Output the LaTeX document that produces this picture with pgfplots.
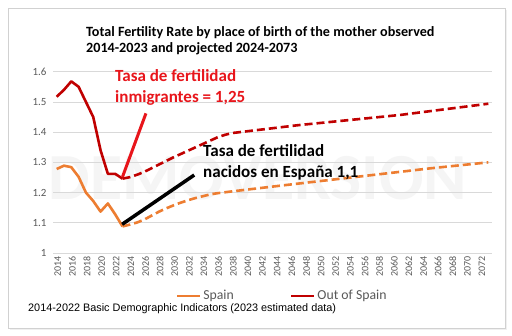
\documentclass[border=0pt]{standalone}
\usepackage{pgfplots}
\pgfplotsset{compat=1.18}
\usepackage{fontspec}
\setmainfont{Carlito}
\newfontfamily\arialf{Liberation Sans}
\definecolor{spain}{HTML}{ED7D31}
\definecolor{oos}{HTML}{C00000}
\definecolor{annred}{HTML}{E8151B}
\definecolor{ticktxt}{HTML}{595959}
\definecolor{gridc}{HTML}{D9D9D9}
\pgfplotstableread{
year val
2014 1.278
2015 1.289
2016 1.284
2017 1.252
2018 1.200
2019 1.172
2020 1.137
2021 1.164
2022 1.128
2023 1.088
}\spainobs
\pgfplotstableread{
year val
2023 1.088
2024 1.094
2025 1.101
2026 1.111
2027 1.124
2028 1.137
2029 1.148
2030 1.158
2031 1.167
2032 1.175
2033 1.182
2034 1.188
2035 1.194
2036 1.198
2037 1.201
2038 1.204
2045 1.224
2055 1.252
2065 1.280
2073 1.300
}\spainproj
\pgfplotstableread{
year val
2014 1.517
2015 1.540
2016 1.568
2017 1.550
2018 1.500
2019 1.450
2020 1.340
2021 1.262
2022 1.262
2023 1.246
}\oosobs
\pgfplotstableread{
year val
2023 1.246
2024 1.251
2025 1.259
2026 1.269
2027 1.281
2028 1.293
2029 1.305
2030 1.317
2031 1.328
2032 1.339
2033 1.350
2034 1.361
2035 1.372
2036 1.383
2037 1.391
2038 1.397
2047 1.423
2061 1.457
2073 1.494
}\oosproj
\begin{document}
\begin{tikzpicture}
\useasboundingbox (0,0) rectangle (512bp,336bp);
\fill[white] (0,0) rectangle (512bp,336bp);
\fill[black!6] (10bp,6bp) rectangle (507bp,326bp);
\fill[white] (8bp,8bp) rectangle (505bp,328bp);
\draw[black!18, line width=0.8bp] (8bp,8bp) rectangle (505bp,328bp);
\node[font=\fontsize{66}{66}\selectfont\bfseries, text=black!4, anchor=center, inner sep=0pt] at (258bp,158bp) {DEMOVERSION};
\begin{axis}[
  at={(53bp,83bp)}, anchor=south west,
  scale only axis, width=439bp, height=181.3bp,
  xmin=2013.5, xmax=2073.5, ymin=1, ymax=1.6,
  axis line style={draw=none}, tick style={draw=none},
  ymajorgrids, major grid style={gridc, line width=0.8bp},
  xtick={2014,2016,...,2072},
  ytick={1,1.1,1.2,1.3,1.4,1.5,1.6},
  yticklabels={1,1.1,1.2,1.3,1.4,1.5,1.6},
  /pgf/number format/assume math mode=true,
  /pgf/number format/1000 sep={},
  x tick label style={rotate=90, anchor=east, font=\fontsize{10}{10}\selectfont, text=ticktxt},
  y tick label style={font=\fontsize{11}{11}\selectfont, text=ticktxt},
  xticklabel style={yshift=-1bp},
  yticklabel style={xshift=-3bp},
  legend style={at={(0.522,-0.237)}, anchor=center, draw=none, fill=none,
    legend columns=2, font=\fontsize{13.8}{13.8}\selectfont, text=ticktxt,
    /tikz/every even column/.append style={column sep=54bp}},
  legend image code/.code={\draw[#1, line width=2.6bp] (0bp,0bp) -- (23bp,0bp);},
  clip=false,
]
\addplot[spain, line width=2.6bp, line join=round] table[x=year,y=val] {\spainobs};
\addlegendentry{Spain}
\addplot[oos, line width=2.6bp, line join=round] table[x=year,y=val] {\oosobs};
\addlegendentry{Out of Spain}
\addplot[spain, line width=2.6bp, dash pattern=on 8bp off 4bp, forget plot] table[x=year,y=val] {\spainproj};
\addplot[oos, line width=2.6bp, dash pattern=on 8bp off 4bp, forget plot] table[x=year,y=val] {\oosproj};
\draw[annred, line width=3bp] (axis cs:2023.0,1.252) -- (axis cs:2026.2,1.462);
\draw[black, line width=3.5bp] (axis cs:2022.95,1.095) -- (axis cs:2032.8,1.258);
\end{axis}
\node[anchor=north west, align=left, inner sep=0pt, font=\fontsize{14.2}{16}\selectfont\bfseries] at (86bp,310bp) {Total Fertility Rate by place of birth of the mother observed\\2014-2023 and projected 2024-2073};
\node[anchor=west, align=left, inner sep=0pt, text=annred, font=\fontsize{17.1}{21}\selectfont\bfseries] at (115bp,248.5bp) {Tasa de fertilidad\\inmigrantes = 1,25};
\node[anchor=west, align=left, inner sep=0pt, text=black, font=\fontsize{17.1}{21}\selectfont\bfseries] at (203bp,174bp) {Tasa de fertilidad\\nacidos en España 1,1};
\node[anchor=west, inner sep=0pt, font=\arialf\fontsize{10.9}{11}\selectfont] at (28bp,27bp) {2014-2022 Basic Demographic Indicators (2023 estimated data)};
\end{tikzpicture}
\end{document}
